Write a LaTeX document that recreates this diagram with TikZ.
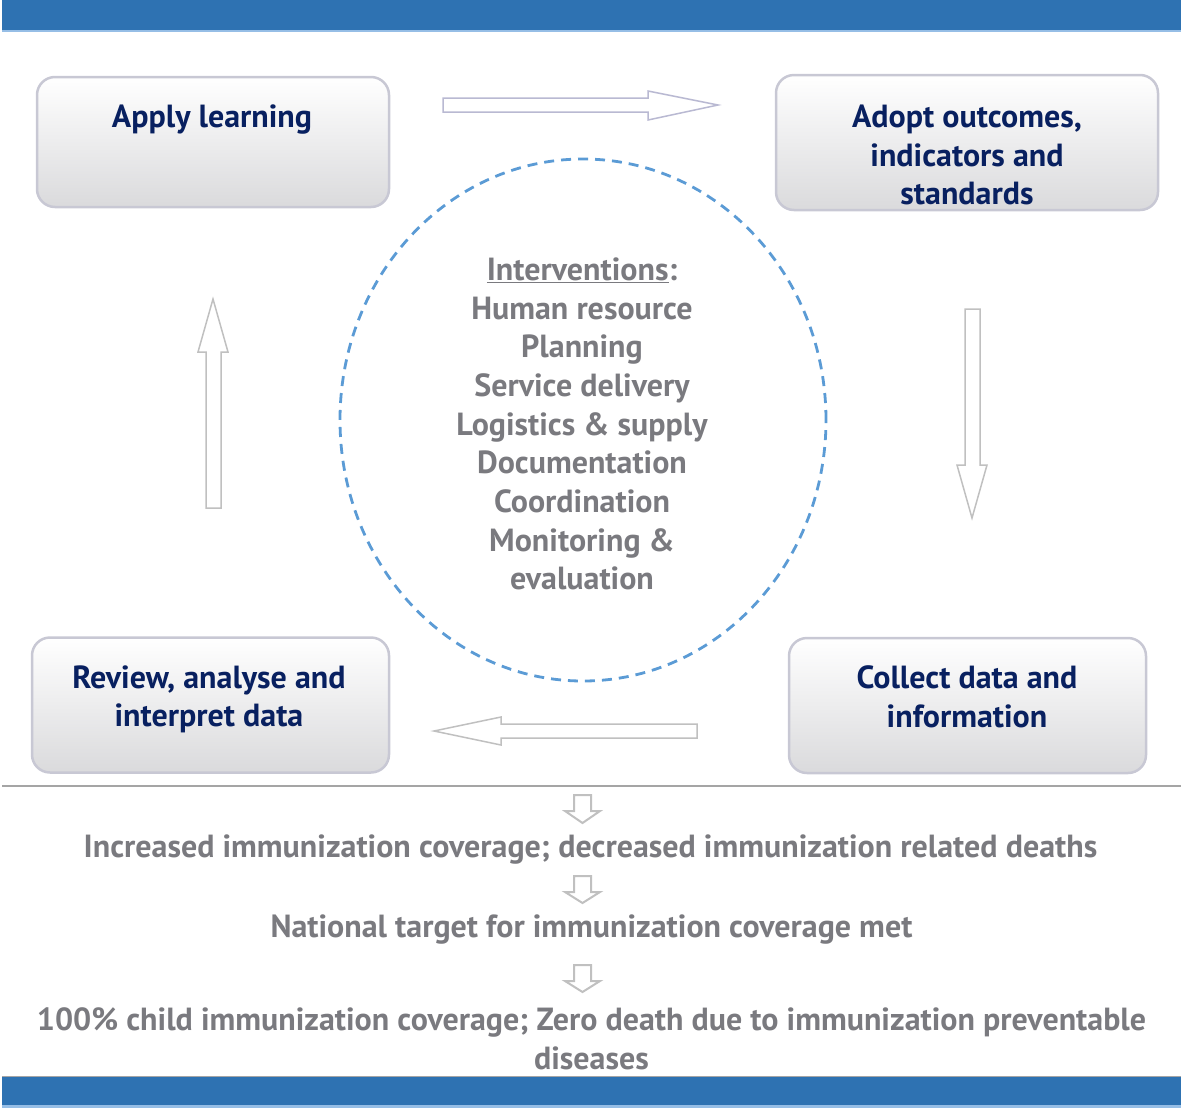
\documentclass[tikz,border=0pt]{standalone}
\usepackage{fontspec}
\setmainfont{PT Sans}
\usetikzlibrary{shapes.geometric}
\definecolor{barblue}{RGB}{46,114,178}
\definecolor{barlight}{RGB}{150,190,230}
\definecolor{navy}{RGB}{8,32,96}
\definecolor{txtgray}{RGB}{122,122,127}
\definecolor{boxborder}{RGB}{200,200,212}
\definecolor{boxbottom}{RGB}{218,218,220}
\definecolor{arrowlav}{RGB}{185,185,210}
\definecolor{arrowgray}{RGB}{192,192,192}
\definecolor{dashblue}{RGB}{91,155,213}
\definecolor{rulegray}{RGB}{165,165,165}
\tikzset{
  stagebox/.style={draw=boxborder, line width=2.5pt, rounded corners=18pt,
    top color=white, bottom color=boxbottom, inner sep=0pt},
  stagetext/.style={text=navy, font=\bfseries\fontsize{32}{38.5}\selectfont, align=center, inner sep=0pt},
  graytext/.style={text=txtgray, font=\bfseries\fontsize{32}{38.7}\selectfont, align=center, inner sep=0pt},
  bigarrow/.style={draw=arrowgray, line width=1.5pt, fill=white, line join=miter},
  smallarrow/.style={draw=arrowgray, line width=2pt, fill=white, line join=miter},
}
\begin{document}
\begin{tikzpicture}[x=1pt,y=-1pt]
\useasboundingbox (0,0) rectangle (1181,1109);
% bars
\fill[barblue] (2,0) rectangle (1181,30);
\fill[barlight] (2,30) rectangle (1181,32);
\draw[rulegray, line width=1pt] (2,1076.5) -- (1181,1076.5);
\fill[barblue] (2,1077) rectangle (1181,1105);
\fill[barlight] (2,1105) rectangle (1181,1108);
% separator line
\draw[rulegray, line width=1.5pt] (2,786) -- (1181,786);

% stage boxes
\node[stagebox, minimum width=352pt, minimum height=130pt] (apply) at (213,142) {};
\node[stagebox, minimum width=382pt, minimum height=135pt] (adopt) at (967,142.5) {};
\node[stagebox, minimum width=357pt, minimum height=135pt] (review) at (210.5,705) {};
\node[stagebox, minimum width=357pt, minimum height=135pt] (collect) at (967.5,705.5) {};

\node[stagetext] (applyt) at (212,120) {Apply learning};
\node[stagetext] (adoptt) at (967,155) {Adopt outcomes,\\indicators and\\standards};
\node[stagetext] (collectt) at (967,697) {Collect data and\\information};
\node[stagetext] (reviewt) at (209,699.5) {Review, analyse and\\interpret data};

% central dashed ellipse
\node[draw=dashblue, line width=2.8pt, dash pattern=on 10pt off 7pt, ellipse,
  minimum width=486pt, minimum height=522pt, inner sep=0pt] (core) at (583,420) {};
\node[graytext] (interv) at (582,424) {\underline{Interventions}:\\Human resource\\Planning\\Service delivery\\Logistics \& supply\\Documentation\\Coordination\\Monitoring \&\\evaluation};

% cycle block arrows
\draw[bigarrow, draw=arrowlav] (443,98) -- (648,98) -- (648,91) -- (718,105) -- (648,120) -- (648,112) -- (443,112) -- cycle;
\draw[bigarrow] (965,309) -- (980,309) -- (980,465) -- (987,465) -- (972,518) -- (957,465) -- (965,465) -- cycle;
\draw[bigarrow] (697,724) -- (697,738) -- (501,738) -- (501,745) -- (434,731) -- (501,717) -- (501,724) -- cycle;
\draw[bigarrow] (206,508) -- (206,352) -- (198,352) -- (213,299) -- (228,352) -- (221,352) -- (221,508) -- cycle;

% outcome chain
\draw[smallarrow] (574,795) -- (591,795) -- (591,811) -- (600,811) -- (582.5,823) -- (565,811) -- (574,811) -- cycle;
\node[graytext, anchor=base] (out1) at (590.5,857) {Increased immunization coverage; decreased immunization related deaths};
\draw[smallarrow] (574,876) -- (591,876) -- (591,892) -- (600,892) -- (582.5,903) -- (565,892) -- (574,892) -- cycle;
\node[graytext, anchor=base] (out2) at (591.5,937) {National target for immunization coverage met};
\draw[smallarrow] (574,965) -- (591,965) -- (591,981) -- (600,981) -- (582.5,992) -- (565,981) -- (574,981) -- cycle;
\node[graytext] (out3) at (591.5,1039) {100\% child immunization coverage; Zero death due to immunization preventable\\diseases};
\end{tikzpicture}
\end{document}
